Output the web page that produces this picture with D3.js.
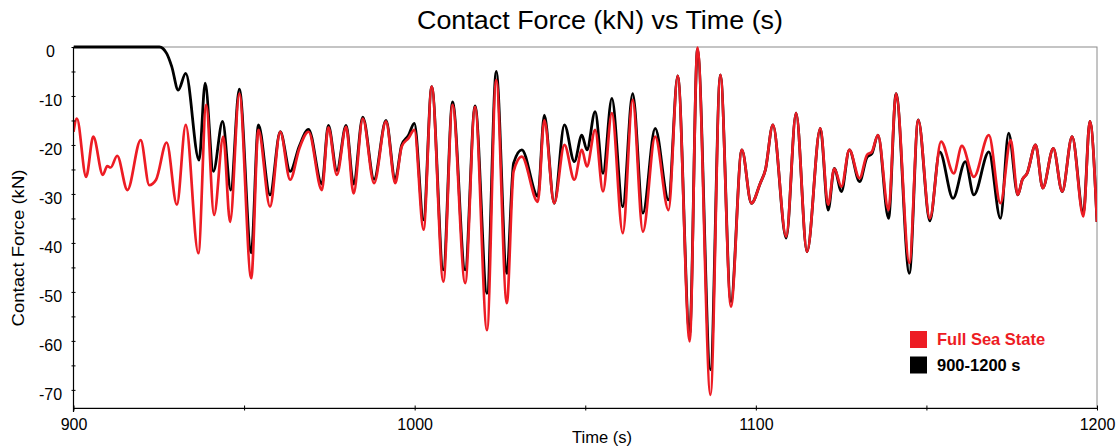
<!DOCTYPE html>
<html><head><meta charset="utf-8">
<script src="https://cdn.jsdelivr.net/npm/d3@7"></script>
<style>body{margin:0;background:#fff}svg{display:block}text{font-family:Arial,"Liberation Sans",sans-serif}</style>
</head><body><svg id="c" width="1118" height="446"></svg>
<script>
// ---------- data ----------
const redTime=[900.0,901.0,903.7,905.8,908.6,909.9,910.9,912.8,915.8,919.7,922.2,924.2,927.3,930.3,932.9,936.6,938.9,941.2,943.9,945.9,948.6,952.1,954.2,957.6,960.6,963.5,966.2,968.9,972.8,974.7,977.2,979.9,982.1,984.8,988.1,991.6,994.3,996.2,998.2,999.9,1002.6,1005.0,1008.4,1011.1,1014.8,1017.7,1021.2,1023.9,1027.0,1029.0,1031.4,1036.1,1038.0,1040.9,1043.9,1046.8,1049.0,1050.5,1052.9,1055.2,1057.8,1061.0,1063.9,1066.9,1070.5,1074.4,1077.1,1080.6,1082.9,1086.7,1089.6,1092.7,1095.9,1098.7,1101.3,1102.8,1105.0,1108.9,1111.8,1115.0,1118.9,1121.2,1123.0,1125.1,1127.4,1130.4,1132.6,1134.0,1135.8,1138.9,1141.1,1145.0,1147.6,1151.0,1154.3,1158.0,1160.4,1163.9,1168.3,1171.7,1174.7,1176.8,1178.1,1179.5,1182.0,1184.1,1187.2,1189.8,1192.7,1196.0,1197.9,1200.0];
const redForce=[-17.3,-14.6,-26.5,-18.3,-26.1,-24.3,-24.6,-22.2,-29.2,-19.0,-28.2,-27.1,-19.5,-32.2,-15.9,-42.1,-11.8,-34.3,-18.3,-35.7,-9.5,-47.2,-16.9,-32.6,-17.3,-27.1,-20.7,-17.3,-29.2,-16.4,-26.1,-16.3,-29.9,-14.6,-27.8,-15.2,-27.8,-20.3,-18.6,-16.9,-37.3,-8.1,-47.9,-11.8,-48.2,-12.2,-57.8,-6.7,-52.3,-25.4,-22.4,-31.6,-14.9,-31.9,-20.0,-27.1,-21.0,-24.4,-16.9,-29.5,-13.5,-38.0,-10.8,-37.7,-18.3,-33.3,-5.9,-60.1,-0.1,-71.0,-5.7,-53.0,-21.0,-31.9,-27.8,-25.1,-15.9,-38.7,-13.5,-41.8,-16.6,-32.2,-24.8,-28.5,-21.0,-26.8,-22.0,-21.4,-18.0,-33.3,-9.5,-44.1,-14.9,-35.0,-19.3,-25.8,-20.2,-26.5,-18.0,-31.9,-19.0,-30.2,-27.1,-25.8,-20.0,-28.8,-20.7,-29.5,-18.3,-34.6,-15.2,-35.7];
const blackTime=[900.0,925.2,927.3,928.8,930.7,932.9,936.8,938.6,941.0,943.7,946.1,948.6,952.1,954.2,957.6,960.6,963.5,966.2,968.9,972.8,974.7,977.2,979.9,982.1,984.8,988.1,991.6,994.3,996.2,998.2,999.9,1002.6,1005.0,1008.4,1011.1,1014.8,1017.7,1021.2,1023.9,1027.0,1029.0,1031.4,1036.1,1038.0,1040.9,1043.9,1046.8,1049.0,1050.5,1052.9,1055.2,1057.8,1061.0,1063.9,1066.9,1070.5,1074.4,1077.1,1080.6,1082.9,1086.7,1089.6,1092.7,1095.9,1098.7,1101.3,1102.8,1105.0,1108.9,1111.8,1115.0,1118.9,1121.2,1123.0,1125.1,1127.4,1130.4,1132.6,1134.0,1135.8,1138.9,1141.1,1145.0,1147.6,1151.0,1153.9,1157.8,1161.4,1163.9,1168.3,1171.7,1174.1,1176.8,1178.1,1179.5,1182.0,1184.1,1187.2,1189.8,1192.7,1196.0,1197.9,1200.0];
const blackForce=[0,0,-1.3,-4.0,-8.8,-5.4,-23.1,-7.4,-25.4,-15.2,-29.2,-8.6,-42.0,-15.9,-30.2,-17.3,-25.4,-20.2,-16.8,-28.0,-16.0,-25.2,-16.0,-28.0,-14.3,-27.0,-15.0,-27.0,-20.0,-18.0,-15.6,-35.3,-8.1,-45.5,-11.2,-45.5,-12.0,-50.3,-5.0,-46.2,-23.7,-21.0,-30.5,-13.9,-31.9,-15.9,-23.4,-18.0,-21.0,-13.2,-25.8,-10.5,-32.6,-9.5,-33.9,-16.6,-31.2,-5.9,-58.5,-0.5,-65.9,-5.7,-52.0,-21.0,-31.9,-27.8,-25.1,-15.9,-39.0,-13.5,-41.8,-16.6,-33.3,-24.8,-29.5,-21.0,-27.5,-22.5,-21.8,-18.0,-35.0,-9.5,-46.2,-14.9,-35.5,-21.4,-30.9,-23.4,-30.2,-21.4,-35.0,-17.6,-30.2,-27.1,-25.8,-20.0,-28.8,-20.7,-29.5,-18.3,-34.0,-15.2,-35.7];
const xMajorTicks=[900,1000,1100,1200];
const xMinorTicks=[950,1050,1150];
const yMajorTicks=[0,-10,-20,-30,-40,-50,-60,-70];
const yMinorTicks=[-5,-15,-25,-35,-45,-55,-65];
const seriesNames=["Full Sea State","900-1200 s"];
const seriesColors=["#ed1c24","#000000"];
const titleText="Contact Force (kN) vs Time (s)";
const xLabel="Time (s)";
const yLabel="Contact Force (kN)";

// ---------- layout ----------
const L=73.5,R=1097,T=47,B=408;
const svg=d3.select("#c");
const x=d3.scaleLinear().domain([900,1200]).range([L,R]);
const y=d3.scaleLinear().domain([-73.7,0]).range([B,T]);

svg.append("defs").append("clipPath").attr("id","clip")
  .append("rect").attr("x",L).attr("y",T-2).attr("width",R-L).attr("height",B-T+2);

// frame (top/right grey)
svg.append("rect").attr("x",L).attr("y",T).attr("width",R-L).attr("height",B-T)
  .attr("fill","none").attr("stroke","#8a8a8a").attr("stroke-width",1);

// lines
const line=d3.line().x(d=>x(d[0])).y(d=>y(d[1])).curve(d3.curveMonotoneX);
const blackData=blackTime.map((t,i)=>[t,blackForce[i]]);
const redData=redTime.map((t,i)=>[t,redForce[i]]);
const g=svg.append("g").attr("clip-path","url(#clip)");
g.append("path").datum(blackData).attr("d",line).attr("fill","none")
  .attr("stroke",seriesColors[1]).attr("stroke-width",2.8).attr("stroke-linejoin","round");
g.append("path").datum(redData).attr("d",line).attr("fill","none")
  .attr("stroke",seriesColors[0]).attr("stroke-width",2.7).attr("stroke-linejoin","round");

// y axis
const yAxisG=svg.append("g").attr("transform",`translate(${L},0)`);
yAxisG.call(d3.axisLeft(y).tickValues(yMajorTicks.concat(yMinorTicks)).tickSizeInner(4).tickSizeOuter(0).tickFormat(d=>yMajorTicks.includes(d)?String(d):""));
yAxisG.select(".domain").attr("stroke","#000").attr("stroke-width",1.2).attr("d",`M0,${T}V${B+4}`);
yAxisG.selectAll(".tick line").attr("stroke","#000").attr("transform","translate(2,0)");
yAxisG.selectAll(".tick text").attr("x",-23).attr("dy","0.6em").attr("text-anchor","middle")
  .style("font-size","16px").attr("fill","#000").attr("font-family",null);

// x axis
const xAxisG=svg.append("g").attr("transform",`translate(0,${B})`);
xAxisG.call(d3.axisBottom(x).tickValues(xMajorTicks.concat(xMinorTicks)).tickSizeInner(5).tickSizeOuter(0).tickFormat(d=>xMajorTicks.includes(d)?String(d):""));
xAxisG.select(".domain").attr("stroke","#000").attr("stroke-width",1.2);
xAxisG.selectAll(".tick line").attr("stroke","#000").attr("transform","translate(0,-2.5)");
xAxisG.selectAll(".tick text").attr("y",11).attr("dy","0.71em")
  .style("font-size","16px").attr("fill","#000").attr("font-family",null);

// titles
svg.append("text").attr("x",600).attr("y",29).attr("text-anchor","middle")
  .style("font-size","25px").attr("textLength",366).attr("lengthAdjust","spacingAndGlyphs").text(titleText);
svg.append("text").attr("x",602).attr("y",443).attr("text-anchor","middle")
  .style("font-size","16px").attr("textLength",60).attr("lengthAdjust","spacingAndGlyphs").text(xLabel);
svg.append("text").attr("transform","translate(24,248) rotate(-90)").attr("text-anchor","middle")
  .style("font-size","16px").attr("textLength",157).attr("lengthAdjust","spacingAndGlyphs").text(yLabel);

// legend
const leg=svg.append("g");
seriesNames.forEach((n,i)=>{
  const yy=331+i*25.5;
  leg.append("rect").attr("x",910).attr("y",yy).attr("width",17).attr("height",17).attr("fill",seriesColors[i]);
  leg.append("text").attr("x",937).attr("y",yy+14).style("font-size","16.5px").style("font-weight","bold")
    .attr("fill",seriesColors[i]).text(n);
});
</script></body></html>
